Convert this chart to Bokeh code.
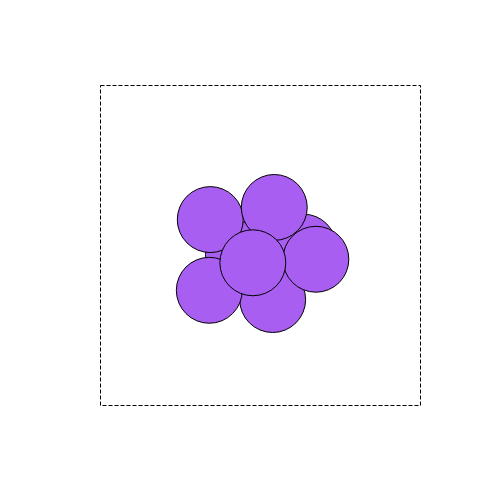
from bokeh.plotting import figure
from bokeh.models import Range1d
from bokeh.embed import file_html
from bokeh.resources import INLINE

# bubble centres (draw order) and common radius
xs = [6.34, 4.31, 5.38, 3.40, 3.43, 5.43, 6.73, 4.76]
ys = [4.95, 4.72, 3.31, 3.60, 5.81, 6.19, 4.57, 4.46]
radius = 1.03

p = figure(width=480, height=480, output_backend="svg", toolbar_location=None,
           x_range=Range1d(0, 10), y_range=Range1d(0, 10),
           min_border_left=100, min_border_right=60,
           min_border_top=85, min_border_bottom=75)
p.axis.visible = False
p.grid.visible = False
p.outline_line_color = "black"
p.outline_line_dash = "4 2"
p.outline_line_width = 1
p.background_fill_color = "white"
p.border_fill_color = "white"

p.circle(x=xs, y=ys, radius=radius, fill_color="#a85ef1", fill_alpha=1.0,
         line_color="black", line_width=1)

open("out.html", "w").write(file_html(p, INLINE))
